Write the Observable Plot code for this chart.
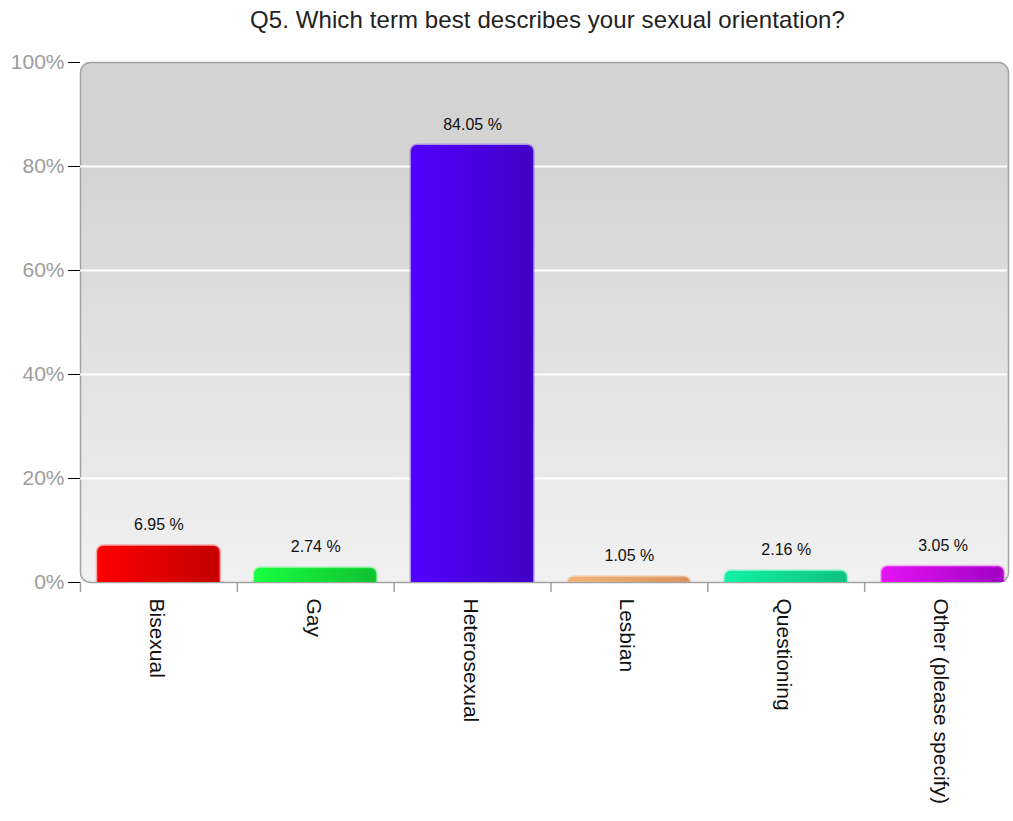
<!DOCTYPE html>
<html>
<head>
<meta charset="utf-8">
<script src="https://cdn.jsdelivr.net/npm/d3@7"></script>
<script src="https://cdn.jsdelivr.net/npm/@observablehq/plot@0.6"></script>
<style>
  html, body { margin: 0; padding: 0; background: #ffffff; overflow: hidden; }
  body { font-family: "Liberation Sans", Arial, sans-serif; width: 1013px; height: 821px; position: relative; }
  #title { position: absolute; left: 80px; top: 0; width: 935px; height: 40px; line-height: 40px;
           text-align: center; font-size: 24px; color: #222; letter-spacing: 0.1px; }
  #chart { position: absolute; left: 0; top: 40px; }
  #chart svg [aria-label^="y-axis"] text { fill: #9c9c9c; font-size: 21px; }
  #chart svg [aria-label^="y-axis"] line { stroke: #a0a0a0; }
</style>
</head>
<body>
<div id="title">Q5. Which term best describes your sexual orientation?</div>
<div id="chart"></div>
<script>
const categories = ["Bisexual", "Gay", "Heterosexual", "Lesbian", "Questioning", "Other (please specify)"];
const values = [6.95, 2.74, 84.05, 1.05, 2.16, 3.05];
const colorStart = ["#ff0000", "#18ff40", "#5200ff", "#f4b47c", "#12f2a4", "#e414f4"];
const colorEnd = ["#c20000", "#10c030", "#4000c4", "#d8935e", "#10c080", "#a000c4"];
const yTicks = [0, 20, 40, 60, 80, 100];
const gridTicks = [20, 40, 60, 80];

const data = categories.map((c, i) => ({cat: c, value: values[i], i}));

const W = 1013, H = 781;
const mLeft = 80, mRight = -8, mTop = 22, mBottom = 239;
const step = (W - mRight - mLeft) / categories.length;

const svg = Plot.plot({
  width: W,
  height: H,
  marginLeft: mLeft,
  marginRight: mRight,
  marginTop: mTop,
  marginBottom: mBottom,
  style: {fontFamily: "Liberation Sans, Arial, sans-serif", background: "transparent", overflow: "visible"},
  x: {domain: categories, paddingInner: 0.22, paddingOuter: 0.11, round: false, axis: null},
  y: {domain: [0, 100], ticks: yTicks, tickFormat: d => d + "%", tickSize: 12, tickPadding: 4, label: null},
  color: {type: "identity"},
  marks: [
    Plot.frame({fill: "#e0e0e0", stroke: "#a3a3a3", strokeWidth: 1.5, insetRight: 13}),
    Plot.ruleY(gridTicks, {stroke: "#ffffff", strokeWidth: 2, insetRight: 14}),
    Plot.barY(data, {
      x: "cat", y: "value",
      fill: d => colorStart[d.i],
      stroke: d => colorStart[d.i], strokeOpacity: 0.3, strokeWidth: 3,
      rx: 6, insetBottom: -10, clip: true
    }),
    Plot.ruleX(categories, {x: d => d, y1: 0, y2: 0, insetBottom: -10, dx: -step / 2, stroke: "#a0a0a0", strokeWidth: 1.5}),
    Plot.text(data, {x: "cat", y: "value", text: d => d.value.toFixed(2) + " %", dy: -21, fontSize: 16, fill: "#111111"}),
    Plot.text(data, {x: "cat", text: "cat", frameAnchor: "bottom", rotate: 90, textAnchor: "start", dy: 16, dx: -9, fontSize: 21, fill: "#111111"})
  ]
});

// gradient definitions
const root = d3.select(svg);
const defs = root.insert("defs", ":first-child");
const bg = defs.append("linearGradient").attr("id", "bgGrad").attr("x1", 0).attr("y1", 0).attr("x2", 0).attr("y2", 1);
bg.append("stop").attr("offset", "0").attr("stop-color", "#d3d3d3");
bg.append("stop").attr("offset", "0.2").attr("stop-color", "#d4d4d4");
bg.append("stop").attr("offset", "1").attr("stop-color", "#f1f1f1");
categories.forEach((c, i) => {
  const g = defs.append("linearGradient").attr("id", "barGrad" + i).attr("x1", 0).attr("y1", 0).attr("x2", 1).attr("y2", 0);
  g.append("stop").attr("offset", "0").attr("stop-color", colorStart[i]);
  g.append("stop").attr("offset", "1").attr("stop-color", colorEnd[i]);
});

root.selectAll('[aria-label="frame"]').each(function() {
  const el = d3.select(this);
  const rects = this.tagName.toLowerCase() === "rect" ? el : el.selectAll("rect");
  rects.attr("fill", "url(#bgGrad)").attr("rx", 10).attr("ry", 10);
});
root.selectAll('g[aria-label="bar"] rect').attr("fill", (d, i) => `url(#barGrad${i})`);

document.getElementById("chart").appendChild(svg);
</script>
</body>
</html>
